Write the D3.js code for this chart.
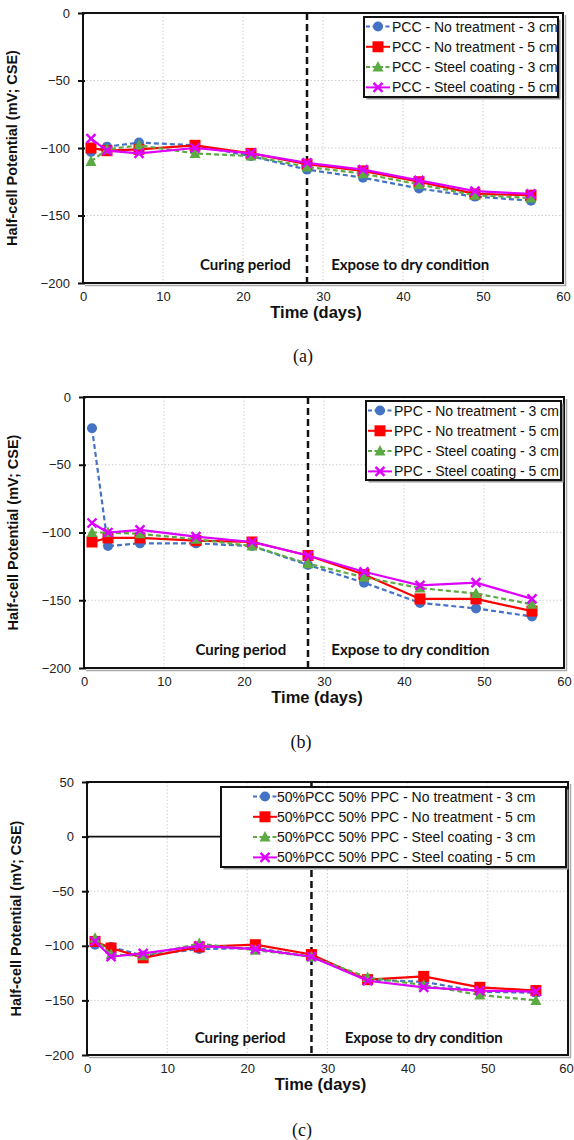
<!DOCTYPE html>
<html>
<head>
<meta charset="utf-8">
<script src="https://cdn.jsdelivr.net/npm/d3@7"></script>
<style>
  body { margin: 0; background: #fff; }
  svg { display: block; font-family: "Liberation Sans", Arial, sans-serif; }
</style>
</head>
<body>
<svg id="chart" width="574" height="1140"></svg>
<script>
// sampling days
const days = [1, 3, 7, 14, 21, 28, 35, 42, 49, 56];
const xTicks = [0, 10, 20, 30, 40, 50, 60];
const yTicksAB = [0, -50, -100, -150, -200];
const yTicksC = [50, 0, -50, -100, -150, -200];
const seriesNames = ['No treatment - 3 cm', 'No treatment - 5 cm', 'Steel coating - 3 cm', 'Steel coating - 5 cm'];

// (a) PCC
const pccNoTreat3 = [-103, -99, -96, -98, -106, -116, -122, -130, -136, -139];
const pccNoTreat5 = [-100, -102, -101, -98, -104, -112, -117, -125, -134, -135];
const pccSteel3 = [-110, -101, -98, -104, -106, -114, -119, -127, -135, -137];
const pccSteel5 = [-93, -102, -104, -100, -104, -111, -116, -124, -132, -134];

// (b) PPC
const ppcNoTreat3 = [-23, -110, -108, -108, -110, -124, -137, -152, -156, -162];
const ppcNoTreat5 = [-107, -104, -104, -106, -107, -117, -131, -149, -149, -158];
const ppcSteel3 = [-100, -100, -101, -105, -110, -123, -133, -141, -145, -153];
const ppcSteel5 = [-93, -100, -98, -103, -107, -117, -129, -139, -137, -149];

// (c) 50%PCC 50% PPC
const mixNoTreat3 = [-99, -101, -109, -103, -102, -110, -131, -133, -142, -143];
const mixNoTreat5 = [-96, -102, -111, -101, -99, -108, -131, -128, -138, -141];
const mixSteel3 = [-93, -108, -109, -98, -104, -110, -129, -136, -145, -150];
const mixSteel5 = [-96, -110, -107, -100, -103, -110, -132, -138, -141, -142];

const styles = [
  { color: '#4472C4', dash: '5,3', marker: 'circle' },
  { color: '#FF0000', dash: null, marker: 'square' },
  { color: '#5DAA45', dash: '5,3', marker: 'triangle' },
  { color: '#DD00FF', dash: null, marker: 'x' }
];

const panels = [
  {
    prefix: 'PCC', caption: '(a)', series: [pccNoTreat3, pccNoTreat5, pccSteel3, pccSteel5],
    yDomain: [-200, 0], yTicks: yTicksAB,
    left: 83, right: 563, top: 13, bottom: 283, captionY: 362, captionX: 303,
    legend: { x: 364, y: 17, w: 194, h: 80, lineX: 366, textX: 392 },
    curingX: 20.3, exposeX: 40.9, noteY: -187, zeroLine: false
  },
  {
    prefix: 'PPC', caption: '(b)', series: [ppcNoTreat3, ppcNoTreat5, ppcSteel3, ppcSteel5],
    yDomain: [-200, 0], yTicks: yTicksAB,
    left: 84, right: 564, top: 397, bottom: 668, captionY: 748, captionX: 301,
    legend: { x: 366, y: 401, w: 195, h: 79, lineX: 368, textX: 394 },
    curingX: 19.6, exposeX: 40.8, noteY: -187, zeroLine: false
  },
  {
    prefix: '50%PCC 50% PPC', caption: '(c)', series: [mixNoTreat3, mixNoTreat5, mixSteel3, mixSteel5],
    yDomain: [-200, 50], yTicks: yTicksC,
    left: 87, right: 568, top: 782, bottom: 1055, captionY: 1136, captionX: 302,
    legend: { x: 221, y: 787, w: 345, h: 80, lineX: 253, textX: 277 },
    curingX: 19.1, exposeX: 42, noteY: -184, zeroLine: true
  }
];

const svg = d3.select('#chart');
const svgWidth = 574;

function drawMarker(g, type, x, y, color) {
  if (type === 'circle') {
    g.append('circle').attr('cx', x).attr('cy', y).attr('r', 5).attr('fill', color);
  } else if (type === 'square') {
    g.append('rect').attr('x', x - 5.5).attr('y', y - 5.5).attr('width', 11).attr('height', 11).attr('fill', color);
  } else if (type === 'triangle') {
    g.append('path').attr('d', `M${x},${y - 6}L${x + 5.5},${y + 4.5}L${x - 5.5},${y + 4.5}Z`).attr('fill', color);
  } else {
    g.append('path').attr('d', `M${x - 4.5},${y - 4.5}L${x + 4.5},${y + 4.5}M${x - 4.5},${y + 4.5}L${x + 4.5},${y - 4.5}`)
      .attr('stroke', color).attr('stroke-width', 2.4);
  }
}

function drawPanel(p) {
  const x = d3.scaleLinear().domain([0, 60]).range([p.left, p.right]);
  const y = d3.scaleLinear().domain(p.yDomain).range([p.bottom, p.top]);
  const g = svg.append('g');

  // gridlines
  xTicks.slice(1, -1).forEach(v => {
    g.append('line').attr('x1', x(v)).attr('x2', x(v)).attr('y1', p.top).attr('y2', p.bottom)
      .attr('stroke', '#cfcfcf').attr('stroke-width', 1).attr('stroke-dasharray', '1.5,2');
  });
  p.yTicks.slice(1, -1).forEach(v => {
    if (p.zeroLine && v === 0) return;
    g.append('line').attr('x1', p.left).attr('x2', p.right).attr('y1', y(v)).attr('y2', y(v))
      .attr('stroke', '#cfcfcf').attr('stroke-width', 1).attr('stroke-dasharray', '1.5,2');
  });

  if (p.zeroLine) {
    g.append('line').attr('x1', p.left).attr('x2', p.right).attr('y1', y(0)).attr('y2', y(0))
      .attr('stroke', '#111').attr('stroke-width', 1.8);
  }

  // frame with soft shadow
  g.append('path')
    .attr('d', `M${p.right + 2.5},${p.top + 2}V${p.bottom + 2.5}H${p.left + 2}`)
    .attr('fill', 'none').attr('stroke', '#aaa').attr('stroke-width', 1.5);
  g.append('rect').attr('x', p.left).attr('y', p.top)
    .attr('width', p.right - p.left).attr('height', p.bottom - p.top)
    .attr('fill', 'none').attr('stroke', '#111').attr('stroke-width', 2);

  // y axis ticks + labels
  const yAxis = g.append('g').attr('transform', `translate(${p.left},0)`)
    .call(d3.axisLeft(y).tickValues(p.yTicks).tickSize(5).tickPadding(8).tickFormat(d3.format('d')));
  yAxis.select('.domain').remove();
  yAxis.selectAll('line').attr('stroke', '#111').attr('stroke-width', 2).attr('x2', -5).attr('x1', 2);
  yAxis.selectAll('text').attr('font-size', 13).attr('fill', '#222')
    .attr('font-family', '"Liberation Sans", Arial, sans-serif');

  // x axis labels
  const xAxis = g.append('g').attr('transform', `translate(0,${p.bottom})`)
    .call(d3.axisBottom(x).tickValues(xTicks).tickSize(0).tickPadding(9).tickFormat(d3.format('d')));
  xAxis.select('.domain').remove();
  xAxis.selectAll('text').attr('font-size', 13).attr('fill', '#222')
    .attr('font-family', '"Liberation Sans", Arial, sans-serif');
  // keep the last label inside the page
  xAxis.selectAll('.tick').each(function (d) {
    const over = x(d) + 8 - svgWidth;
    if (over > 0) d3.select(this).select('text').attr('dx', -over);
  });

  // vertical divider at day 28
  g.append('line').attr('x1', x(28)).attr('x2', x(28)).attr('y1', p.top).attr('y2', p.bottom)
    .attr('stroke', '#111').attr('stroke-width', 2.5).attr('stroke-dasharray', '7,4');

  // annotations
  g.append('text').attr('x', x(p.curingX)).attr('y', y(p.noteY) + 5)
    .attr('text-anchor', 'middle').attr('font-family', 'Lato, "Open Sans", sans-serif')
    .attr('font-weight', 'bold').attr('font-size', 15).attr('fill', '#111').text('Curing period');
  g.append('text').attr('x', x(p.exposeX)).attr('y', y(p.noteY) + 5)
    .attr('text-anchor', 'middle').attr('font-family', 'Lato, "Open Sans", sans-serif')
    .attr('font-weight', 'bold').attr('font-size', 15).attr('fill', '#111').text('Expose to dry condition');

  // series
  const line = d3.line().x((d, i) => x(days[i])).y(d => y(d));
  p.series.forEach((vals, si) => {
    const st = styles[si];
    const sg = g.append('g');
    sg.append('path').datum(vals).attr('d', line)
      .attr('fill', 'none').attr('stroke', st.color).attr('stroke-width', 2.2)
      .attr('stroke-dasharray', st.dash);
    vals.forEach((v, i) => drawMarker(sg, st.marker, x(days[i]), y(v), st.color));
  });

  // legend
  const L = p.legend;
  g.append('rect').attr('x', L.x + 2.5).attr('y', L.y + 2.5).attr('width', L.w).attr('height', L.h)
    .attr('fill', '#999');
  g.append('rect').attr('x', L.x).attr('y', L.y).attr('width', L.w).attr('height', L.h)
    .attr('fill', '#fff').attr('stroke', '#111').attr('stroke-width', 2);
  seriesNames.forEach((name, si) => {
    const st = styles[si];
    const ry = L.y + 9.5 + si * 20.3;
    g.append('line').attr('x1', L.lineX).attr('x2', L.lineX + 24).attr('y1', ry).attr('y2', ry)
      .attr('stroke', st.color).attr('stroke-width', 2).attr('stroke-dasharray', st.dash ? '4,2.5' : null);
    drawMarker(g, st.marker, L.lineX + 12, ry, st.color);
    g.append('text').attr('x', L.textX).attr('y', ry + 5)
      .attr('font-family', '"Liberation Sans", Arial, sans-serif')
      .attr('font-size', 14).attr('fill', '#111')
      .text(`${p.prefix} - ${name}`);
  });

  // axis titles
  g.append('text')
    .attr('transform', `translate(${p.left - 66},${(p.top + p.bottom) / 2}) rotate(-90)`)
    .attr('text-anchor', 'middle').attr('font-weight', 'bold').attr('font-size', 14.5)
    .attr('fill', '#111').text('Half-cell Potential (mV; CSE)');
  g.append('text').attr('x', (p.left + p.right) / 2 - 7).attr('y', p.bottom + 35)
    .attr('text-anchor', 'middle').attr('font-weight', 'bold').attr('font-size', 16.5)
    .attr('fill', '#111').text('Time (days)');

  // caption
  g.append('text').attr('x', p.captionX).attr('y', p.captionY)
    .attr('text-anchor', 'middle').attr('font-family', '"Liberation Serif", "Times New Roman", serif')
    .attr('font-size', 18).attr('fill', '#111').text(p.caption);
}

panels.forEach(drawPanel);
</script>
</body>
</html>
